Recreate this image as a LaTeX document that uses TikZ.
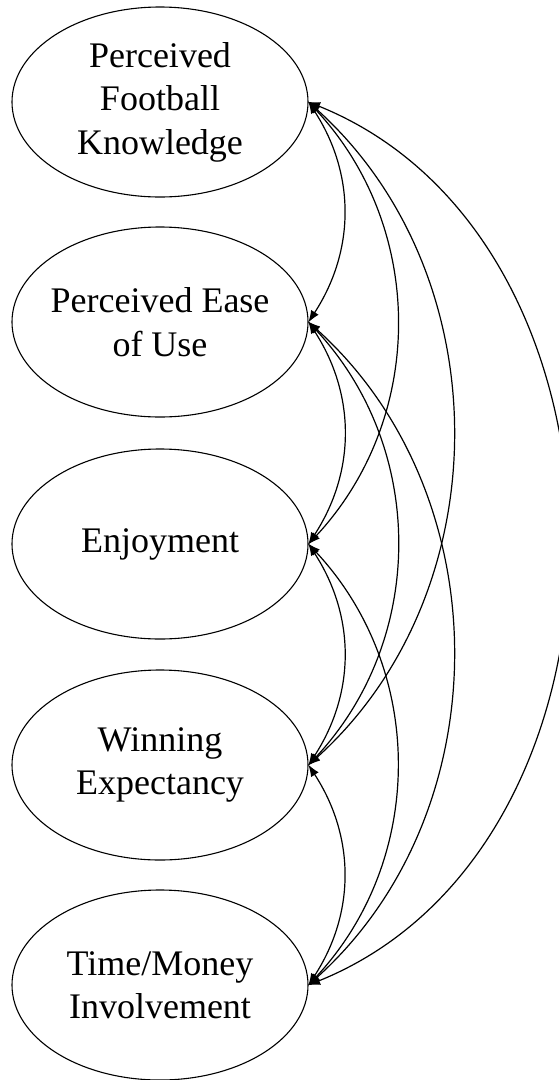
\documentclass[tikz,border=0pt]{standalone}
\usepackage{fontspec}
\setmainfont{Liberation Serif}
\usetikzlibrary{shapes.geometric,arrows.meta}
\tikzset{
  latent/.style={ellipse, draw, line width=1.1pt, minimum width=296pt, minimum height=190pt, inner sep=0pt},
  lbl/.style={align=center, font=\fontsize{36}{43.5}\selectfont, inner sep=0pt},
  cov/.style={{Latex[length=12pt,width=9pt]}-{Latex[length=12pt,width=9pt]}, line width=1.2pt, shorten <=-0.5pt, shorten >=-0.5pt}
}
\begin{document}
\begin{tikzpicture}[x=1pt,y=-1pt]
\useasboundingbox (0,0) rectangle (559,1080);
\node[latent] (n1) at (160,102) {};
\node[latent] (n2) at (160,322) {};
\node[latent] (n3) at (160,544) {};
\node[latent] (n4) at (160,765) {};
\node[latent] (n5) at (160,985) {};
\node[lbl] (t1) at (n1) {Perceived\\Football\\Knowledge};
\node[lbl] (t2) at (n2) {Perceived Ease\\of Use};
\node[lbl] (t3) at (n3) {Enjoyment};
\node[lbl] (t4) at (n4) {Winning\\Expectancy};
\node[lbl] (t5) at (n5) {Time/Money\\Involvement};
% span 1
\draw[cov] (n1.east) to[bend left=33] (n2.east);
\draw[cov] (n2.east) to[bend left=33] (n3.east);
\draw[cov] (n3.east) to[bend left=33] (n4.east);
\draw[cov] (n4.east) to[bend left=33] (n5.east);
% span 2
\draw[cov] (n1.east) to[bend left=43] (n3.east);
\draw[cov] (n2.east) to[bend left=43] (n4.east);
\draw[cov] (n3.east) to[bend left=43] (n5.east);
% span 3
\draw[cov] (n1.east) to[bend left=48] (n4.east);
\draw[cov] (n2.east) to[bend left=48] (n5.east);
% span 4
\draw[cov] (n1.east) to[bend left=68, looseness=1.08] (n5.east);
\end{tikzpicture}
\end{document}
